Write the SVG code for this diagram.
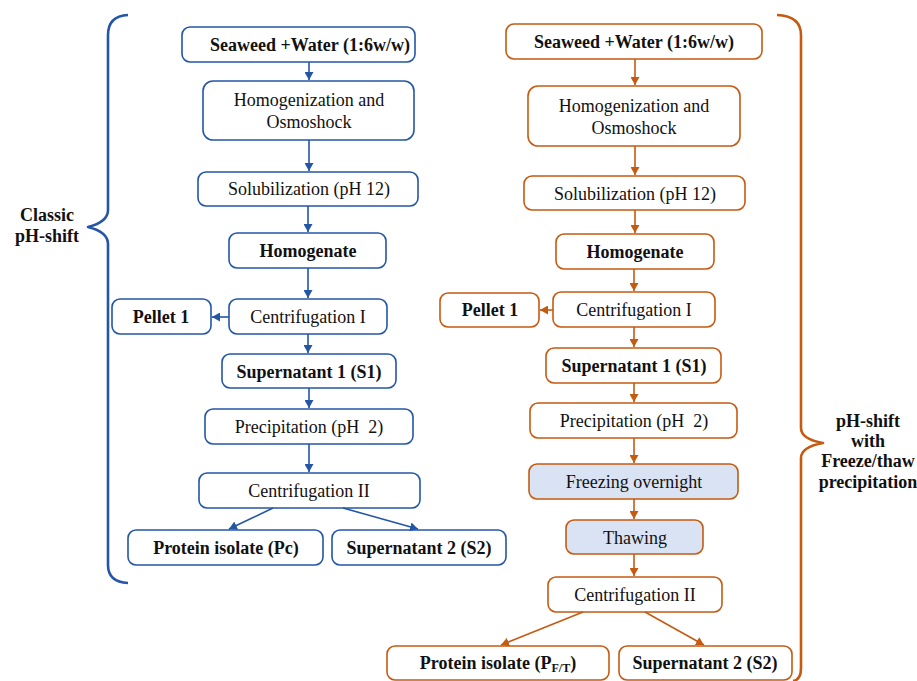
<svg xmlns="http://www.w3.org/2000/svg" width="917" height="681" viewBox="0 0 917 681">
<style>
text{font-family:"Liberation Serif","Times New Roman",serif;font-size:18px;fill:#111;text-anchor:middle;white-space:pre}
.b{font-weight:bold}
.bl rect{fill:#fff;stroke:#2456a6;stroke-width:1.6}
.or rect{fill:#fff;stroke:#c55a11;stroke-width:1.6}
.or rect.fz{fill:#dae3f3}
.cb line{stroke:#2456a6;stroke-width:1.6;marker-end:url(#ab)}
.co line{stroke:#c55a11;stroke-width:1.6;marker-end:url(#ao)}
.brace{fill:none;stroke-width:2.6;stroke-linejoin:round}
</style>
<defs>
<marker id="ab" markerUnits="userSpaceOnUse" markerWidth="9" markerHeight="9" refX="8" refY="4.5" orient="auto"><path d="M0,0 L8,4.5 L0,9 z" fill="#2456a6"/></marker>
<marker id="ao" markerUnits="userSpaceOnUse" markerWidth="9" markerHeight="9" refX="8" refY="4.5" orient="auto"><path d="M0,0 L8,4.5 L0,9 z" fill="#c55a11"/></marker>
</defs>
<rect width="917" height="681" fill="#fff"/>

<!-- braces -->
<path class="brace" stroke="#2456a6" d="M128,15 Q108,16 108,35 L108,210 Q108,222 88,227 Q108,232 108,244 L108,565 Q108,582 128,583"/>
<path class="brace" stroke="#c55a11" d="M777,15 Q801,16 801,35 L801,428 Q801,439 823,443 Q801,447 801,458 L801,668 Q801,680 793,681"/>

<g id="label-classic"><text class="b" x="47" y="221">Classic</text><text class="b" x="47" y="242">pH-shift</text></g>
<g id="label-ft"><text class="b" x="868" y="427">pH-shift</text><text class="b" x="868" y="447">with</text><text class="b" x="868" y="467">Freeze/thaw</text><text class="b" x="868" y="488">precipitation</text></g>

<!-- left column -->
<g class="bl">
<g id="l1"><rect x="182" y="27" width="233" height="35" rx="8"/><text class="b" x="310" y="51">Seaweed +Water (1:6w/w)</text></g>
<g id="l2"><rect x="203" y="81" width="211" height="59" rx="10"/><text x="309" y="106">Homogenization and</text><text x="309" y="128">Osmoshock</text></g>
<g id="l3"><rect x="198" y="172" width="220" height="34" rx="8"/><text x="309" y="195">Solubilization (pH 12)</text></g>
<g id="l4"><rect x="229" y="233" width="157" height="35" rx="8"/><text class="b" x="308" y="257">Homogenate</text></g>
<g id="l5"><rect x="229" y="299" width="158" height="35" rx="8"/><text x="308" y="323">Centrifugation I</text></g>
<g id="l6"><rect x="112" y="299" width="99" height="35" rx="8"/><text class="b" x="161" y="323">Pellet 1</text></g>
<g id="l7"><rect x="222" y="354" width="174" height="34" rx="8"/><text class="b" x="309" y="378">Supernatant 1 (S1)</text></g>
<g id="l8"><rect x="205" y="409" width="208" height="35" rx="8"/><text x="309" y="433">Precipitation (pH  2)</text></g>
<g id="l9"><rect x="199" y="473" width="221" height="35" rx="8"/><text x="309" y="497">Centrifugation II</text></g>
<g id="l10"><rect x="128" y="530" width="195" height="35" rx="8"/><text class="b" x="226" y="554">Protein isolate (Pc)</text></g>
<g id="l11"><rect x="332" y="530" width="174" height="35" rx="8"/><text class="b" x="419" y="554">Supernatant 2 (S2)</text></g>
</g>

<!-- right column -->
<g class="or">
<g id="r1"><rect x="506" y="24" width="256" height="35" rx="8"/><text class="b" x="634" y="48">Seaweed +Water (1:6w/w)</text></g>
<g id="r2"><rect x="528" y="86" width="212" height="60" rx="10"/><text x="634" y="112">Homogenization and</text><text x="634" y="134">Osmoshock</text></g>
<g id="r3"><rect x="524" y="176" width="221" height="34" rx="8"/><text x="635" y="200">Solubilization (pH 12)</text></g>
<g id="r4"><rect x="556" y="234" width="158" height="35" rx="8"/><text class="b" x="635" y="258">Homogenate</text></g>
<g id="r5"><rect x="553" y="292" width="162" height="35" rx="8"/><text x="634" y="316">Centrifugation I</text></g>
<g id="r6"><rect x="440" y="293" width="99" height="34" rx="8"/><text class="b" x="490" y="316">Pellet 1</text></g>
<g id="r7"><rect x="546" y="348" width="175" height="35" rx="8"/><text class="b" x="634" y="372">Supernatant 1 (S1)</text></g>
<g id="r8"><rect x="530" y="403" width="207" height="35" rx="8"/><text x="634" y="427">Precipitation (pH  2)</text></g>
<g id="r9"><rect class="fz" x="529" y="464" width="209" height="35" rx="8"/><text x="634" y="488">Freezing overnight</text></g>
<g id="r10"><rect class="fz" x="566" y="520" width="137" height="34" rx="8"/><text x="635" y="544">Thawing</text></g>
<g id="r11"><rect x="548" y="577" width="174" height="35" rx="8"/><text x="635" y="601">Centrifugation II</text></g>
<g id="r12"><rect x="387" y="646" width="222" height="34" rx="8"/><text class="b" x="498" y="669">Protein isolate (P<tspan font-size="12" dy="3">F/T</tspan><tspan dy="-3">)</tspan></text></g>
<g id="r13"><rect x="619" y="646" width="173" height="34" rx="8"/><text class="b" x="705" y="669">Supernatant 2 (S2)</text></g>
</g>

<!-- connectors -->
<g id="connectors">
<g class="cb">
<line x1="309" y1="62" x2="309" y2="80"/>
<line x1="309" y1="140" x2="309" y2="171"/>
<line x1="308" y1="206" x2="308" y2="232"/>
<line x1="308" y1="268" x2="308" y2="298"/>
<line x1="229" y1="317" x2="212" y2="317"/>
<line x1="308" y1="334" x2="308" y2="353"/>
<line x1="309" y1="388" x2="309" y2="408"/>
<line x1="309" y1="444" x2="309" y2="472"/>
<line x1="273" y1="508" x2="229" y2="529"/>
<line x1="343" y1="508" x2="418" y2="529"/>
</g>
<g class="co">
<line x1="635" y1="59" x2="635" y2="85"/>
<line x1="635" y1="146" x2="635" y2="175"/>
<line x1="635" y1="210" x2="635" y2="233"/>
<line x1="634" y1="269" x2="634" y2="291"/>
<line x1="553" y1="310" x2="540" y2="310"/>
<line x1="634" y1="327" x2="634" y2="347"/>
<line x1="634" y1="383" x2="634" y2="402"/>
<line x1="634" y1="438" x2="634" y2="463"/>
<line x1="634" y1="499" x2="634" y2="519"/>
<line x1="634" y1="554" x2="634" y2="576"/>
<line x1="583" y1="612" x2="501" y2="645"/>
<line x1="645" y1="612" x2="704" y2="645"/>
</g>
</g>
</svg>
